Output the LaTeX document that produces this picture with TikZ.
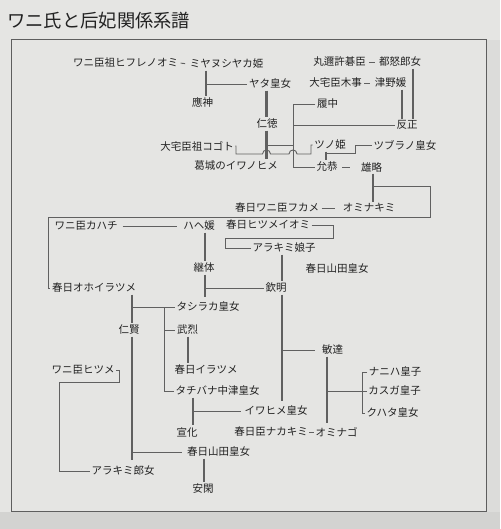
\documentclass[tikz,border=0pt]{standalone}
\usepackage{fontspec}
\setmainfont{Noto Sans CJK JP}
\definecolor{bg}{HTML}{E5E5E3}
\definecolor{shadeR}{HTML}{DCDCDA}
\definecolor{shadeB}{HTML}{D3D3D1}
\definecolor{ink}{HTML}{222222}
\definecolor{ln}{HTML}{606060}
\definecolor{framec}{HTML}{5E5E5E}
\begin{document}
\begin{tikzpicture}[x=1pt,y=-1pt,
  lbl/.style={font=\fontsize{10.5}{12}\selectfont, text=ink, inner sep=1.5pt},
  tk/.style={draw=ln, line width=2.4pt},
  tn/.style={draw=ln, line width=0.9pt}]
\useasboundingbox (0,0) rectangle (500,529);
\fill[bg] (0,0) rectangle (500,529);
\fill[shadeR] (487,40) rectangle (500,529);
\fill[shadeB] (0,512) rectangle (500,529);
\fill[bg] (11,39) rectangle (486,511);
\draw[framec, line width=0.8pt] (11,39) rectangle (486,511);

\node[font=\fontsize{18.3}{20}\selectfont, text=ink, inner sep=0pt, anchor=west] (title) at (7,21) {ワニ氏と后妃関係系譜};

% ---- nodes
\node[lbl] (hifure) at (125.5,63) {ワニ臣祖ヒフレノオミ};
\node[lbl] (miya) at (226.5,64) {ミヤヌシヤカ姫};
\node[lbl] (yata) at (270,84) {ヤタ皇女};
\node[lbl] (ojin) at (202.5,103) {應神};
\node[lbl] (nintoku) at (267,124) {仁徳};
\node[lbl] (wanimaru) at (339.5,62) {丸邇許碁臣};
\node[lbl] (tsunu) at (400,62) {都怒郎女};
\node[lbl] (oyake) at (335.5,83) {大宅臣木事};
\node[lbl] (tsunoya) at (390.5,83) {津野媛};
\node[lbl] (hanzei) at (407,125) {反正};
\node[lbl] (richu) at (327.5,104) {履中};
\node[lbl] (kogoto) at (197,146) {大宅臣祖コゴト};
\node[lbl] (iwanohime) at (236,166) {葛城のイワノヒメ};
\node[lbl] (tsunohime) at (330,145) {ツノ姫};
\node[lbl] (inkyo) at (327,167) {允恭};
\node[lbl] (yuryaku) at (371.5,167) {雄略};
\node[lbl] (tsubura) at (405,145) {ツブラノ皇女};
\node[lbl] (fukame) at (277,208) {春日ワニ臣フカメ};
\node[lbl] (ominakimi) at (369,208) {オミナキミ};
\node[lbl] (kahachi) at (86,226) {ワニ臣カハチ};
\node[lbl] (hahe) at (199,226) {ハヘ媛};
\node[lbl] (himeiomi) at (268,225) {春日ヒツメイオミ};
\node[lbl] (arakimiA) at (284,248) {アラキミ娘子};
\node[lbl] (keitai) at (204,268) {継体};
\node[lbl] (yamadaA) at (337,269) {春日山田皇女};
\node[lbl] (kinmei) at (276,288) {欽明};
\node[lbl] (ohoiratsume) at (94,288) {春日オホイラツメ};
\node[lbl] (tashiraka) at (208,307) {タシラカ皇女};
\node[lbl] (ninken) at (129,330) {仁賢};
\node[lbl] (buretsu) at (187.5,330) {武烈};
\node[lbl] (bidatsu) at (332.5,350) {敏達};
\node[lbl] (kiratsume) at (206,370) {春日イラツメ};
\node[lbl] (hitsume) at (83,370) {ワニ臣ヒツメ};
\node[lbl] (naniwa) at (395,372) {ナニハ皇子};
\node[lbl] (kasugamiko) at (394.5,391) {カスガ皇子};
\node[lbl] (tachibana) at (217.5,391) {タチバナ中津皇女};
\node[lbl] (kuhata) at (392.5,413) {クハタ皇女};
\node[lbl] (iwahime) at (276,411) {イワヒメ皇女};
\node[lbl] (senka) at (187,432) {宣化};
\node[lbl] (nakakimi) at (271,432) {春日臣ナカキミ};
\node[lbl] (ominago) at (336.5,432) {オミナゴ};
\node[lbl] (yamadaB) at (218.5,452) {春日山田皇女};
\node[lbl] (arakimiB) at (123,471) {アラキミ郎女};
\node[lbl] (ankan) at (203,489) {安閑};

% ---- helper coordinates
\coordinate (xA) at (206,0);
\coordinate (xB) at (266.5,0);
\coordinate (xC) at (413,0);
\coordinate (xD) at (402,0);
\coordinate (xE) at (293,0);
\coordinate (yF) at (0,145);
\coordinate (xG) at (326,0);
\coordinate (yH) at (0,153);
\coordinate (xI) at (373,0);
\coordinate (yJ) at (0,186);
\coordinate (xK) at (205,0);
\coordinate (xL) at (282,0);
\coordinate (xM) at (327,0);
\coordinate (xN) at (362,0);
\coordinate (xO) at (132,0);
\coordinate (xP) at (164,0);
\coordinate (xQ) at (188,0);
\coordinate (xR) at (193,0);
\coordinate (xS) at (204,0);

% ---- connectors
\draw[tn, shorten <=1pt, shorten >=3pt] (hifure.east) -- (miya.west);
\draw[tk] (miya.south -| xA) -- (ojin.north -| xA);
\draw[tn] (xA |- yata) -- (yata.west);
\draw[tk] (yata.south -| xB) -- (nintoku.north -| xB);

\draw[tn, shorten <=1.5pt, shorten >=2.5pt] (wanimaru.east) -- (tsunu.west);
\draw[tn, shorten <=1pt, shorten >=3pt] (oyake.east) -- (tsunoya.west);
\draw[tk] (tsunu.south -| xC) -- (hanzei.north -| xC);
\draw[tk] (tsunoya.south -| xD) -- (hanzei.north -| xD);

\draw[tn] (richu.west) -- (richu -| xE) -- (inkyo -| xE) -- (inkyo.west);
\draw[tn] (hanzei.west) -- (hanzei -| xE);
\draw[tk] (nintoku.south -| xB) -- (iwanohime.north -| xB);
\draw[tn] (xB |- yF) -- (xE |- yF);

\draw[tn] (kogoto.east) -- (236,146) -- (236,154) -- (262.5,154)
  .. controls (262.5,148.7) and (270.5,148.7) .. (270.5,154) -- (289,154)
  .. controls (289,148.7) and (297,148.7) .. (297,154) -- (311,154) |- (tsunohime.west);

\draw[tk] (tsunohime.south -| xG) -- (inkyo.north -| xG);
\draw[tn] (xG |- yH) -- (355,153) |- (tsubura.west);
\draw[tn, shorten <=3pt, shorten >=9pt] (inkyo.east) -- (yuryaku.west);

\draw[tk] (yuryaku.south -| xI) -- (ominakimi.north -| xI);
\draw[tn] (xI |- yJ) -- (430,186) -- (430,217) -- (48,217) |- (ohoiratsume.west);
\draw[tn, shorten <=1pt, shorten >=6pt] (fukame.east) -- (ominakimi.west);

\draw[tn, shorten <=3.5pt, shorten >=4.5pt] (kahachi.east) -- (hahe.west);
\draw[tk] (hahe.south -| xK) -- (keitai.north -| xK);
\draw[tk, shorten >=3pt] (keitai.south -| xK) -- (tashiraka.north -| xK);
\draw[tn] (xK |- kinmei) -- (kinmei.west);

\draw[tn] (himeiomi.east) -| (333,238) -- (225,238) |- (arakimiA.west);
\draw[tk] (arakimiA.south -| xL) -- (kinmei.north -| xL);
\draw[tk, shorten >=3pt] (kinmei.south -| xL) -- (iwahime.north -| xL);
\draw[tn, shorten >=5pt] (xL |- bidatsu) -- (bidatsu.west);

\draw[tk, shorten >=3pt] (bidatsu.south -| xM) -- (ominago.north -| xM);
\draw[tn] (xM |- kasugamiko) -- (kasugamiko.west);
\draw[tn] (naniwa.west) -| (xN |- kuhata) -- (kuhata.west);

\draw[tk] (ohoiratsume.south -| xO) -- (ninken.north -| xO);
\draw[tn] (xO |- tashiraka) -- (tashiraka.west);
\draw[tn] (xP |- tashiraka) |- (tachibana.west);
\draw[tn] (xP |- buretsu) -- (buretsu.west);
\draw[tk, shorten >=4pt] (ninken.south -| xO) -- (arakimiB.north -| xO);
\draw[tn, shorten >=3pt] (xO |- yamadaB) -- (yamadaB.west);

\draw[tk] (buretsu.south -| xQ) -- (kiratsume.north -| xQ);
\draw[tn] (hitsume.east) -| (119,382) -- (59,382) |- (arakimiB.west);

\draw[tk] (tachibana.south -| xR) -- (senka.north -| xR);
\draw[tn, shorten >=2pt] (xR |- iwahime) -- (iwahime.west);
\draw[tn] (nakakimi.east) -- (ominago.west);

\draw[tk] (yamadaB.south -| xS) -- (ankan.north -| xS);
\end{tikzpicture}
\end{document}
